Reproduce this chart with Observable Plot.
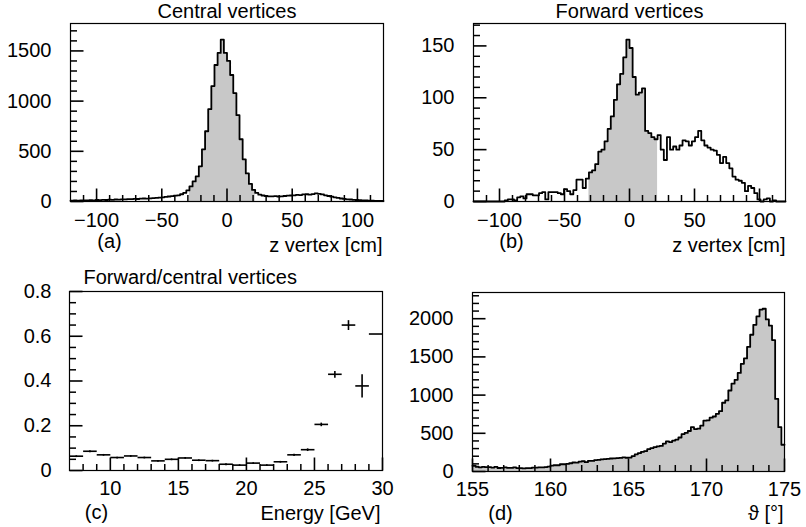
<!DOCTYPE html>
<html><head><meta charset="utf-8">
<script src="https://cdn.jsdelivr.net/npm/d3@7"></script>
<script src="https://cdn.jsdelivr.net/npm/@observablehq/plot@0.6"></script>
<style>
body{margin:0;background:#fff;}
#root{position:relative;width:806px;height:527px;background:#fff;overflow:hidden;}
#root svg{position:absolute;}
</style></head><body><div id="root"></div>
<script>
// ---------- data ----------
// z vertex histograms: 100 bins of 2.4 cm from -120 to 120
const zMin = -120, zMax = 120, zBinWidth = 2.4;
const centralCounts = [
  8, 10, 9, 12, 10, 11, 13, 12, 15, 14,
  16, 15, 18, 17, 20, 19, 22, 21, 24, 23,
  26, 25, 28, 30, 29, 32, 34, 36, 38, 42,
  46, 50, 54, 58, 62, 72, 85, 110, 150, 200,
  250, 350, 520, 700, 920, 1150, 1360, 1480, 1612, 1480,
  1400, 1260, 1080, 860, 620, 420, 280, 175, 115, 85,
  68, 60, 55, 52, 52, 54, 50, 52, 55, 58,
  60, 62, 66, 64, 70, 72, 68, 74, 80, 76,
  70, 62, 55, 48, 42, 36, 30, 26, 22, 20,
  17, 15, 14, 12, 10, 9, 8, 7, 6, 5
];
const forwardCounts = [
  0, 0, 0, 0, 0, 0, 0, 0, 0, 0,
  1, 2, 2, 1, 4, 5, 3, 7, 7, 6,
  6, 8, 9, 2, 9, 9, 9, 8, 7, 12,
  10, 7, 11, 21, 21, 13, 22, 28, 30, 36,
  48, 50, 58, 70, 82, 98, 113, 123, 139, 156,
  148, 120, 103, 105, 109, 68, 66, 62, 60, 64,
  50, 40, 62, 50, 53, 50, 54, 59, 58, 54,
  58, 62, 68, 59, 54, 52, 50, 49, 45, 37,
  43, 37, 32, 24, 21, 20, 18, 10, 15, 13,
  8, 2, 0, 2, 3, 0, 1, 0, 0, 0
];
const centralShade = [-28.8, 21.6];
const forwardShade = [-31.2, 21.6];
const zMajorTicks = [-100, -50, 0, 50, 100];
const centralYTicks = [0, 500, 1000, 1500];
const forwardYTicks = [0, 50, 100, 150];

// theta histogram: 100 bins of 0.2 deg from 155 to 175
const thetaMin = 155, thetaMax = 175, thetaBinWidth = 0.2;
const thetaCounts = [
  75, 62, 55, 60, 57, 58, 52, 60, 46, 48,
  55, 48, 47, 55, 45, 44, 40, 44, 43, 50,
  52, 55, 53, 58, 64, 78, 82, 82, 95, 95,
  100, 108, 118, 116, 130, 134, 122, 140, 138, 150,
  152, 160, 162, 166, 170, 172, 176, 178, 184, 180,
  182, 200, 225, 240, 258, 268, 292, 305, 318, 330,
  335, 365, 395, 385, 405, 418, 445, 490, 505, 530,
  580, 555, 560, 600, 665, 670, 705, 720, 755, 790,
  900, 930, 1060, 1150, 1200, 1290, 1410, 1480, 1630, 1790,
  1920, 2030, 2120, 2130, 1990, 1910, 1720, 950, 580, 350
];
const thetaXTicks = [155, 160, 165, 170, 175];
const thetaYTicks = [0, 500, 1000, 1500, 2000];

// forward/central ratio vs energy (1 GeV bins from 7 to 30)
const energyMin = 7, energyMax = 30, energyBinWidth = 1;
const energyCenters = [7.5, 8.5, 9.5, 10.5, 11.5, 12.5, 13.5, 14.5, 15.5, 16.5, 17.5, 18.5,
  19.5, 20.5, 21.5, 22.5, 23.5, 24.5, 25.5, 26.5, 27.5, 28.5, 29.5];
const ratioValues = [0.064, 0.086, 0.070, 0.058, 0.065, 0.058, 0.043, 0.050, 0.056, 0.046, 0.044, 0.028,
  0.024, 0.033, 0.024, 0.039, 0.070, 0.093, 0.206, 0.43, 0.65, 0.378, 0.61];
const ratioErrors = [0.004, 0.004, 0.004, 0.004, 0.004, 0.004, 0.004, 0.004, 0.004, 0.004, 0.004, 0.004,
  0.004, 0.004, 0.004, 0.004, 0.005, 0.006, 0.008, 0.015, 0.022, 0.052, 0];
const energyXTicks = [10, 15, 20, 25, 30];
const ratioYTicks = [0, 0.2, 0.4, 0.6, 0.8];

// ---------- helpers ----------
const FONT = "'Liberation Sans', Arial, Helvetica, sans-serif";
const FS = 20;
const fmt = d3.format("");
const MAJOR = 13, MINOR = 6.5;

function tickLinks(o, xDomain, yDomain, xMajor, xMinor, yMajor, yMinor) {
  const innerW = o.width - o.margins[0] - o.margins[1];
  const innerH = o.height - o.margins[2] - o.margins[3];
  const x0 = xDomain[0], y0 = yDomain[0];
  const ky = (yDomain[1] - yDomain[0]) / innerH;   // data units per pixel (y)
  const kx = (xDomain[1] - xDomain[0]) / innerW;   // data units per pixel (x)
  const xt = (vals, len) => vals.map(v => ({x1: v, x2: v, y1: y0, y2: y0 + len * ky}));
  const yt = (vals, len) => vals.map(v => ({x1: x0, x2: x0 + len * kx, y1: v, y2: v}));
  const opts = w => ({x1: "x1", x2: "x2", y1: "y1", y2: "y2", stroke: "black", strokeWidth: w});
  return [
    Plot.link(xt(xMinor, MINOR), opts(1.5)),
    Plot.link(xt(xMajor, MAJOR), opts(1.6)),
    Plot.link(yt(yMinor, MINOR), opts(1.5)),
    Plot.link(yt(yMajor, MAJOR), opts(1.6))
  ];
}

function labelMarks({title, titleAnchor = "top", titleDx = 0, titleDy, tag, tagDx, tagDy, xLabel, xLabelDx, xLabelDy}) {
  const marks = [];
  const common = {fontSize: FS, fill: "black", lineAnchor: "middle"};
  if (title) marks.push(Plot.text([title], {...common, frameAnchor: titleAnchor, textAnchor: titleAnchor === "top" ? "middle" : "start",
    dx: titleDx, dy: titleDy}));
  marks.push(Plot.text([tag], {...common, frameAnchor: "bottom-left", textAnchor: "middle", dx: tagDx, dy: tagDy}));
  marks.push(Plot.text([xLabel], {...common, frameAnchor: "bottom-right", textAnchor: "end", dx: xLabelDx, dy: xLabelDy}));
  return marks;
}

function plotOptions(o) {
  return {
    width: o.width, height: o.height,
    marginLeft: o.margins[0], marginRight: o.margins[1], marginTop: o.margins[2], marginBottom: o.margins[3],
    style: {fontFamily: FONT, fontSize: FS + "px", background: "white", color: "black", overflow: "visible"}
  };
}

function histPanel(o) {
  const bins = o.counts.map((v, i) => ({x1: o.x0 + i * o.bw, x2: o.x0 + (i + 1) * o.bw, v}));
  const stepPts = bs => bs.map(b => ({x: b.x1, v: b.v})).concat([{x: bs[bs.length - 1].x2, v: bs[bs.length - 1].v}]);
  const outline = stepPts(bins);
  const shadePts = stepPts(bins.filter(b => b.x1 >= o.shade[0] - 1e-6 && b.x2 <= o.shade[1] + 1e-6));
  const yMax = 1.1 * d3.max(o.counts);
  const yDomain = [0, yMax];
  const yMinor = d3.range(0, yMax, o.yMinorStep).filter(v => !o.yMajor.includes(v));
  return Plot.plot({
    ...plotOptions(o),
    x: {domain: o.xDomain, ticks: o.xMajor, tickSize: 0, tickPadding: o.xPad, tickFormat: fmt, label: null},
    y: {domain: yDomain, ticks: o.yMajor, tickSize: 0, tickPadding: o.yPad, tickFormat: fmt, label: null},
    marks: [
      Plot.area(shadePts, {x1: "x", y1: 0, y2: "v", curve: "step-after", fill: "#c8c8c8"}),
      Plot.line(outline, {x: "x", y: "v", curve: "step-after", stroke: "black", strokeWidth: 1.8}),
      ...tickLinks(o, o.xDomain, yDomain, o.xMajor, o.xMinor, o.yMajor, yMinor),
      Plot.frame({stroke: "black", strokeWidth: 1.2}),
      ...labelMarks(o.labels)
    ]
  });
}

function ratioPanel(o) {
  const data = energyCenters.map((c, i) => ({c, lo: c - energyBinWidth / 2, hi: c + energyBinWidth / 2, v: ratioValues[i], e: ratioErrors[i]}));
  const xDomain = [energyMin, energyMax], yDomain = [0, 0.8];
  const xMinor = d3.range(energyMin + 1, energyMax, 1).filter(v => !energyXTicks.includes(v));
  const yMinor = d3.range(0.05, 0.8, 0.05).filter(v => !ratioYTicks.some(t => Math.abs(t - v) < 1e-9));
  return Plot.plot({
    ...plotOptions(o),
    x: {domain: xDomain, ticks: energyXTicks, tickSize: 0, tickPadding: o.xPad, tickFormat: fmt, label: null},
    y: {domain: yDomain, ticks: ratioYTicks, tickSize: 0, tickPadding: o.yPad, tickFormat: fmt, label: null},
    marks: [
      Plot.link(data, {x1: "lo", x2: "hi", y1: "v", y2: "v", stroke: "black", strokeWidth: 1.6}),
      Plot.link(data.filter(d => d.e > 0), {x1: "c", x2: "c", y1: d => d.v - d.e, y2: d => d.v + d.e, stroke: "black", strokeWidth: 1.6}),
      ...tickLinks(o, xDomain, yDomain, energyXTicks, xMinor, ratioYTicks, yMinor),
      Plot.frame({stroke: "black", strokeWidth: 1.2}),
      ...labelMarks(o.labels)
    ]
  });
}

// ---------- panels ----------
const root = document.getElementById("root");
function place(svg, left, top) {
  svg.style.left = left + "px";
  svg.style.top = top + "px";
  root.appendChild(svg);
}

const zMinor = d3.range(-110, 111, 10).filter(v => !zMajorTicks.includes(v));

place(histPanel({
  counts: centralCounts, x0: zMin, bw: zBinWidth, shade: centralShade,
  xDomain: [zMin, zMax], xMajor: zMajorTicks, xMinor: zMinor, yMajor: centralYTicks, yMinorStep: 100,
  width: 403, height: 264, margins: [70, 20, 23, 63], xPad: 11, yPad: 19,
  labels: {title: "Central vertices", titleDy: -11.5, tag: "(a)", tagDx: 39, tagDy: 40, xLabel: "z vertex [cm]", xLabelDx: -1, xLabelDy: 44.5}
}), 0, 0);

place(histPanel({
  counts: forwardCounts, x0: zMin, bw: zBinWidth, shade: forwardShade,
  xDomain: [zMin, zMax], xMajor: zMajorTicks, xMinor: zMinor, yMajor: forwardYTicks, yMinorStep: 10,
  width: 403, height: 264, margins: [70, 21, 23, 63], xPad: 11, yPad: 19,
  labels: {title: "Forward vertices", titleDy: -11.5, tag: "(b)", tagDx: 38, tagDy: 40, xLabel: "z vertex [cm]", xLabelDx: 0, xLabelDy: 44.5}
}), 403, 0);

place(ratioPanel({
  width: 403, height: 263, margins: [69, 21, 27, 57], xPad: 10, yPad: 18,
  labels: {title: "Forward/central vertices", titleAnchor: "top-left", titleDx: 14, titleDy: -13.5, tag: "(c)", tagDx: 27, tagDy: 42.5, xLabel: "Energy [GeV]", xLabelDx: -2, xLabelDy: 43.5}
}), 0, 264);

place(histPanel({
  counts: thetaCounts, x0: thetaMin, bw: thetaBinWidth, shade: [thetaMin, thetaMax],
  xDomain: [thetaMin, thetaMax], xMajor: thetaXTicks, xMinor: d3.range(156, 175, 1).filter(v => !thetaXTicks.includes(v)),
  yMajor: thetaYTicks, yMinorStep: 100,
  width: 403, height: 263, margins: [69, 22, 28, 56], xPad: 10, yPad: 19,
  labels: {title: null, tag: "(d)", tagDx: 28, tagDy: 42.5, xLabel: "ϑ [°]", xLabelDx: -1, xLabelDy: 42.5}
}), 403, 264);
</script>
</body></html>
